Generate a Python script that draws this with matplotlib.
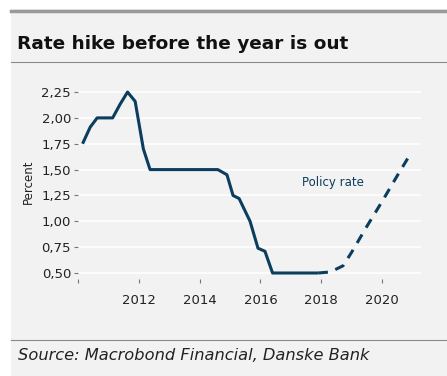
import matplotlib.pyplot as plt
from matplotlib.patches import Rectangle
from matplotlib.lines import Line2D
from matplotlib.ticker import FuncFormatter

# actual policy rate (solid)
actual_x = [2010.15, 2010.4, 2010.63, 2011.14, 2011.38, 2011.63, 2011.88, 2012.15, 2012.37,
            2014.6, 2014.9, 2015.1, 2015.3, 2015.66, 2015.92, 2016.15, 2016.4, 2017.9]
actual_y = [1.75, 1.91, 2.00, 2.00, 2.13, 2.25, 2.16, 1.70, 1.50,
            1.50, 1.45, 1.25, 1.22, 1.00, 0.74, 0.71, 0.50, 0.50]
# forecast (dashed)
fc_x = [2017.9, 2018.3, 2018.72, 2019.0, 2019.5, 2020.0, 2020.5, 2020.85]
fc_y = [0.50, 0.51, 0.57, 0.70, 0.95, 1.19, 1.44, 1.61]

yticks = [0.50, 0.75, 1.00, 1.25, 1.50, 1.75, 2.00, 2.25]
xticks = [2010, 2012, 2014, 2016, 2018, 2020]

W, H = 447, 376
fig = plt.figure(figsize=(W / 100, H / 100), dpi=100, facecolor='white')
bg = '#f2f2f2'
fig.patches.append(Rectangle((11 / W, 0), 1 - 11 / W, (H - 9) / H, transform=fig.transFigure,
                             facecolor=bg, edgecolor='none', zorder=-10))
# header / footer rules
fig.add_artist(Line2D([11 / W, 1], [1 - 10.5 / H] * 2, color='#9a9a9a', lw=2.5, transform=fig.transFigure))
fig.add_artist(Line2D([11 / W, 1], [1 - 62 / H] * 2, color='#8a8a8a', lw=0.8, transform=fig.transFigure))
fig.add_artist(Line2D([11 / W, 1], [1 - 340 / H] * 2, color='#8a8a8a', lw=0.8, transform=fig.transFigure))

fig.text(17 / W, 1 - 44 / H, 'Rate hike before the year is out', fontsize=13.3, fontweight='bold',
         family='DejaVu Sans', color='#111111', va='center')
fig.text(18 / W, 1 - 356 / H, 'Source: Macrobond Financial, Danske Bank', fontsize=11.7,
         style='italic', family='DejaVu Sans', color='#222222', va='center')

ax = fig.add_axes([78 / W, 1 - 279 / H, (421 - 78) / W, (279 - 84) / H])
ax.set_facecolor(bg)
ax.set_xlim(2010, 2010 + (421 - 78) / 30.4)
ax.set_ylim(0.50 - 6 / 103.4, 0.50 + (273 - 84) / 103.4)
for s in ax.spines.values():
    s.set_visible(False)
ax.set_yticks(yticks)
ax.yaxis.set_major_formatter(FuncFormatter(lambda v, p: f'{v:.2f}'.replace('.', ',')))
ax.set_xticks(xticks)
ax.set_xticklabels([''] + [str(t) for t in xticks[1:]])
ax.grid(axis='y', color='white', lw=1.2)
ax.set_axisbelow(True)
ax.tick_params(axis='y', length=3, color='#777777', labelsize=9.5, labelcolor='#222222', pad=2)
ax.tick_params(axis='x', length=3, color='#777777', labelsize=9.5, labelcolor='#222222', pad=8)
ax.set_ylabel('Percent', fontsize=8.5, color='#222222', labelpad=5)

line_c = '#0b3d5e'
ax.plot(actual_x, actual_y, color=line_c, lw=2.2, solid_capstyle='butt')
ax.plot(fc_x, fc_y, color=line_c, lw=2.2, dashes=(3.2, 2.6))
ax.text(2018.4, 1.38, 'Policy rate', fontsize=8.5, color=line_c, ha='center', va='center')

fig.savefig('out.png', dpi=100, facecolor=fig.get_facecolor())
